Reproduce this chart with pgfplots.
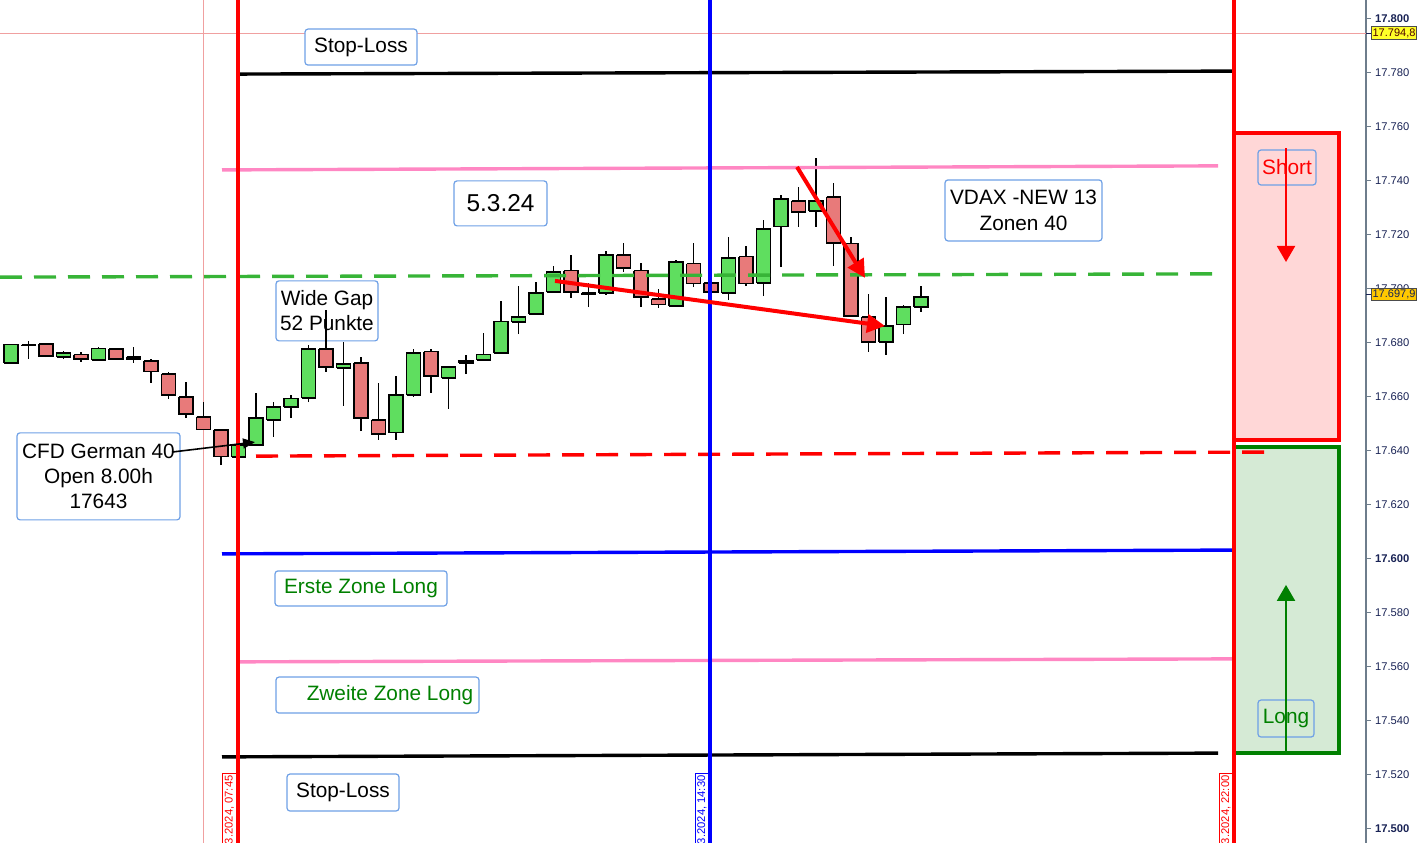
\documentclass[border=0pt]{standalone}
\usepackage{pgfplots}
\pgfplotsset{compat=1.18}
\usepackage{pgfplotstable}
\usetikzlibrary{arrows.meta}
\usepackage{fontspec}
\setmainfont{Liberation Sans}

\definecolor{upc}{RGB}{95,222,95}
\definecolor{dnc}{RGB}{232,122,122}
\definecolor{lblue}{RGB}{110,160,230}
\definecolor{pinkl}{RGB}{255,135,195}
\definecolor{gdash}{RGB}{55,180,55}
\definecolor{xred}{RGB}{255,0,0}
\definecolor{xblue}{RGB}{0,0,255}
\definecolor{zgreen}{RGB}{0,128,0}
\definecolor{shortfill}{RGB}{255,215,215}
\definecolor{longfill}{RGB}{213,234,213}
\definecolor{crossc}{RGB}{240,160,160}
\definecolor{tickc}{RGB}{25,35,85}
\definecolor{axc}{RGB}{110,125,140}
\definecolor{pyel}{RGB}{255,255,40}
\definecolor{porg}{RGB}{255,200,0}

% x = bar position (px), o h l c = open high low close, t = 1 rising / 0 falling
\pgfplotstableread{
x o h l c t
11 17672.6 17679.6 17672.6 17679.3 1
28.5 17679.3 17680.7 17674.1 17679.0 0
46 17679.6 17680.0 17674.8 17675.2 0
63.5 17674.8 17677.0 17674.1 17676.3 1
81 17675.6 17676.7 17673.0 17674.1 0
98.5 17673.7 17678.5 17673.7 17678.1 1
116 17677.8 17678.1 17674.1 17674.1 0
133.5 17674.8 17678.5 17672.6 17674.1 0
151 17673.3 17674.1 17665.2 17669.3 0
168.5 17668.5 17669.3 17659.3 17660.7 0
186 17660.0 17665.6 17652.2 17653.7 0
203.5 17652.6 17658.1 17648.1 17648.1 0
221 17647.8 17647.8 17634.8 17638.1 0
238.5 17637.8 17642.2 17637.8 17642.2 1
256 17642.2 17661.5 17642.2 17652.2 1
273.5 17651.5 17658.1 17645.2 17656.3 1
291 17656.3 17660.7 17652.2 17659.3 1
308.5 17659.6 17679.3 17658.1 17677.8 1
326 17677.8 17692.2 17669.3 17671.1 0
343.5 17670.7 17680.4 17656.7 17672.2 1
361 17672.6 17674.8 17647.4 17652.2 0
378.5 17651.5 17665.2 17644.1 17646.3 0
396 17646.7 17667.8 17644.1 17660.7 1
413.5 17660.7 17677.8 17660.0 17676.3 1
431 17676.7 17677.8 17661.5 17667.8 0
448.5 17667.0 17671.1 17655.6 17671.1 1
466 17672.6 17675.6 17668.5 17673.3 1
483.5 17673.7 17683.7 17673.7 17675.6 1
501 17676.3 17695.6 17676.3 17688.1 1
518.5 17687.8 17701.1 17683.3 17689.6 1
536 17690.7 17702.6 17690.7 17698.5 1
553.5 17698.9 17708.5 17698.9 17706.3 1
571 17706.7 17712.6 17696.7 17698.9 0
588.5 17698.5 17702.2 17693.3 17698.1 0
606 17698.5 17714.1 17697.8 17712.6 1
623.5 17712.6 17717.0 17706.3 17707.8 0
641 17706.7 17709.6 17693.3 17697.0 0
658.5 17696.3 17700.0 17693.0 17694.4 0
676 17693.7 17710.7 17693.7 17710.0 1
693.5 17709.3 17717.0 17700.7 17701.9 0
711 17702.2 17705.9 17697.8 17698.9 0
728.5 17698.5 17719.3 17695.9 17711.5 1
746 17711.9 17715.9 17701.1 17701.9 0
763.5 17702.2 17725.6 17697.4 17722.2 1
781 17723.0 17734.8 17708.1 17733.3 1
798.5 17732.6 17737.8 17723.0 17728.5 0
816 17728.9 17748.5 17723.0 17732.6 1
833.5 17734.1 17739.3 17708.5 17717.0 0
851 17716.7 17719.3 17690.0 17690.0 0
868.5 17689.6 17698.1 17676.7 17680.4 0
886 17680.4 17697.0 17675.6 17686.3 1
903.5 17686.7 17694.1 17683.3 17693.3 1
921 17693.3 17701.1 17691.5 17697.0 1
}\candles
\pgfplotstablegetrowsof{\candles}
\pgfmathtruncatemacro\N{\pgfplotsretval-1}

\tikzset{lbl/.style={draw=lblue, fill=white, line width=0.6pt, rounded corners=1.5pt,
  inner sep=0pt, align=center, font=\fontsize{10.4}{12.6}\selectfont}}

\begin{document}
\begin{tikzpicture}
\begin{axis}[name=ax, at={(0,0)}, anchor=south west,
  scale only axis, width=683pt, height=421.5pt,
  xmin=0, xmax=1366, ymin=17494.81, ymax=17807.04,
  axis x line=none, axis y line*=right,
  axis line style={axc, line width=0.8pt},
  xtick=\empty,
  ytick={17500,17520,...,17800},
  yticklabels={\textbf{17.500},17.520,17.540,17.560,17.580,\textbf{17.600},17.620,17.640,17.660,17.680,17.700,17.720,17.740,17.760,17.780,\textbf{17.800}},
  yticklabel style={font=\fontsize{5.6}{6}\selectfont, text=tickc, xshift=-1.5pt},
  tick align=outside, major tick length=2.5pt,
  ytick style={axc, line width=0.5pt},
]
% crosshair
\addplot[crossc, line width=0.5pt, forget plot] coordinates {(203.5,17494.81) (203.5,17807.04)};
\addplot[crossc, line width=0.5pt, forget plot] coordinates {(0,17794.8) (1366,17794.8)};
\coordinate (p1) at (axis cs:1366,17794.8);
\coordinate (p2) at (axis cs:1366,17697.9);

% zone boxes
\addplot[fill=shortfill, draw=xred, line width=1.7pt, forget plot] coordinates {(1234,17757.8) (1339,17757.8) (1339,17644.1) (1234,17644.1) (1234,17757.8)};
\addplot[fill=longfill, draw=zgreen, line width=1.7pt, forget plot] coordinates {(1234,17641.5) (1339,17641.5) (1339,17528.1) (1234,17528.1) (1234,17641.5)};

% labels
\node[lbl, minimum width=56pt, minimum height=18pt] at (axis cs:361,17789.6) {Stop-Loss};
\node[lbl, minimum width=46.5pt, minimum height=22.5pt, font=\fontsize{12.2}{14}\selectfont] at (axis cs:500.5,17731.7) {5.3.24};
\node[lbl, minimum width=78.5pt, minimum height=30.5pt] at (axis cs:1023.5,17729.1) {VDAX -NEW 13\\Zonen 40};
\node[lbl, minimum width=51pt, minimum height=30pt] at (axis cs:327,17691.9) {Wide Gap\\52 Punkte};
\node[lbl, minimum width=81.5pt, minimum height=43.5pt] at (axis cs:98.5,17630.6) {CFD German 40\\Open 8.00h\\17643};
\node[lbl, minimum width=86pt, minimum height=17.5pt, text=zgreen] at (axis cs:361,17589.1) {Erste Zone Long};
\node[lbl, minimum width=101.5pt, minimum height=18pt, text=zgreen] at (axis cs:377.5,17549.6) {\hspace*{12.5pt}Zweite Zone Long};
\node[lbl, minimum width=56pt, minimum height=18.5pt] at (axis cs:343,17513.5) {Stop-Loss};
\node[lbl, fill=none, minimum width=29pt, minimum height=17.5pt, text=xred] at (axis cs:1287,17745.0) {Short};
\node[lbl, fill=none, minimum width=28pt, minimum height=18.5pt, text=zgreen] at (axis cs:1286,17540.9) {Long};

% candles
\pgfplotsforeachungrouped \i in {0,...,\N}{%
  \pgfplotstablegetelem{\i}{x}\of\candles \let\cx\pgfplotsretval
  \pgfplotstablegetelem{\i}{o}\of\candles \let\co\pgfplotsretval
  \pgfplotstablegetelem{\i}{h}\of\candles \let\ch\pgfplotsretval
  \pgfplotstablegetelem{\i}{l}\of\candles \let\cl\pgfplotsretval
  \pgfplotstablegetelem{\i}{c}\of\candles \let\cc\pgfplotsretval
  \pgfplotstablegetelem{\i}{t}\of\candles
  \ifnum\pgfplotsretval=1 \def\col{upc}\else\def\col{dnc}\fi
  \pgfmathsetmacro\xl{\cx-7}%
  \pgfmathsetmacro\xr{\cx+7}%
  \edef\temp{\noexpand\addplot[black,line width=0.6pt,forget plot] coordinates {(\cx,\cl) (\cx,\ch)};%
    \noexpand\addplot[draw=black,fill=\col,line width=0.6pt,forget plot] coordinates {(\xl,\co) (\xr,\co) (\xr,\cc) (\xl,\cc) (\xl,\co)};}%
  \temp
}

% horizontal levels
\addplot[black, line width=1.7pt, forget plot] coordinates {(240,17779.6) (1234,17780.7)};
\addplot[pinkl, line width=1.7pt, forget plot] coordinates {(222,17744.1) (1218,17745.6)};
\addplot[gdash, line width=1.7pt, dash pattern=on 11pt off 6pt, forget plot] coordinates {(0,17704.4) (1218,17705.6)};
\addplot[xred, line width=1.7pt, dash pattern=on 11pt off 6pt, forget plot] coordinates {(256,17638.1) (1265,17639.6)};
\addplot[xblue, line width=1.7pt, forget plot] coordinates {(222,17601.9) (1234,17603.3)};
\addplot[pinkl, line width=1.7pt, forget plot] coordinates {(238,17561.9) (1234,17563.0)};
\addplot[black, line width=1.7pt, forget plot] coordinates {(222,17526.7) (1218,17528.1)};

% vertical session lines
\addplot[xred, line width=1.9pt, forget plot] coordinates {(238,17494.81) (238,17807.04)};
\addplot[xblue, line width=1.9pt, forget plot] coordinates {(710,17494.81) (710,17807.04)};
\addplot[xred, line width=1.9pt, forget plot] coordinates {(1234,17494.81) (1234,17807.04)};

% date labels
\node[rotate=90, anchor=east, draw=xred, fill=white, text=xred, inner sep=1pt, line width=0.4pt, font=\fontsize{5.6}{6}\selectfont] at (axis cs:229.5,17520.7) {05.03.2024, 07:45};
\node[rotate=90, anchor=east, draw=xblue, fill=white, text=xblue, inner sep=1pt, line width=0.4pt, font=\fontsize{5.6}{6}\selectfont] at (axis cs:702,17520.7) {05.03.2024, 14:30};
\node[rotate=90, anchor=east, draw=xred, fill=white, text=xred, inner sep=1pt, line width=0.4pt, font=\fontsize{5.6}{6}\selectfont] at (axis cs:1226,17520.7) {05.03.2024, 22:00};

% arrows
\draw[xred, line width=1pt, -{Triangle[length=8pt, width=9pt]}] (axis cs:1286,17752.2) -- (axis cs:1286,17710.0);
\draw[zgreen, line width=1pt, -{Triangle[length=8pt, width=9pt]}] (axis cs:1286,17528.1) -- (axis cs:1286,17590.4);
\draw[xred, line width=2pt, -{Triangle[length=9pt, width=9pt]}] (axis cs:555,17703.0) -- (axis cs:885,17686.3);
\draw[xred, line width=2pt, -{Triangle[length=9pt, width=9pt]}] (axis cs:797,17745.2) -- (axis cs:865,17704.1);
\draw[black, line width=0.8pt, -{Triangle[length=6pt, width=5pt]}] (axis cs:172,17639.6) -- (axis cs:255,17643.3);
\end{axis}
% price markers on the scale
\draw[tickc, line width=0.5pt] (p1) -- ++(3pt,0);
\draw[tickc, line width=0.5pt] (p2) -- ++(3pt,0);
\node[anchor=west, fill=pyel, draw=gray!60!black, line width=0.4pt, inner xsep=0.5pt, inner ysep=0.8pt, text=black!70!red, font=\fontsize{5.5}{6}\selectfont] at ([xshift=2.6pt]p1) {17.794,8};
\node[anchor=west, fill=porg, draw=gray!60!black, line width=0.4pt, inner xsep=0.5pt, inner ysep=0.8pt, text=tickc, font=\fontsize{5.5}{6}\selectfont] at ([xshift=2.6pt]p2) {17.697,9};
\pgfresetboundingbox
\useasboundingbox (ax.south west) rectangle ([xshift=26pt]ax.north east);
\end{tikzpicture}
\end{document}
